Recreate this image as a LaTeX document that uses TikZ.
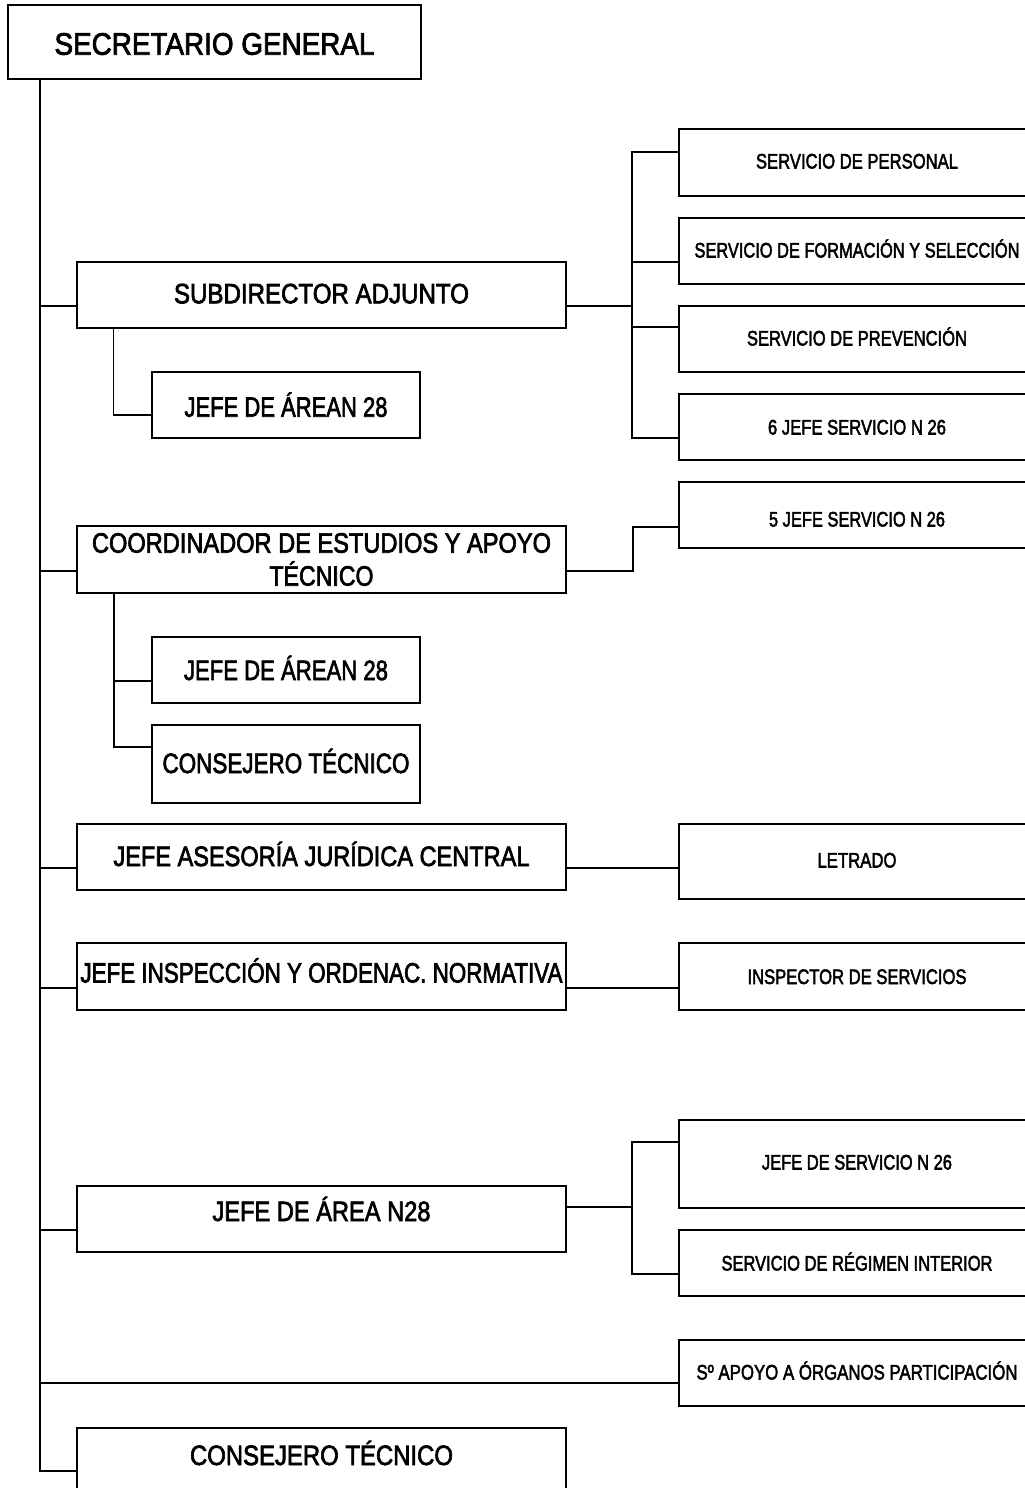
\documentclass[tikz,border=0pt]{standalone}
\usepackage{fontspec}
\setmainfont{Liberation Sans}[FakeBold=2.6]
\usepackage{graphicx}
\newcommand{\lbl}[3]{\raisebox{#1pt}{\resizebox{#2pt}{\height}{#3}}}
\newcommand{\fitw}[2]{\resizebox{#1pt}{\height}{#2}}
\begin{document}
\begin{tikzpicture}[x=1pt,y=-1pt,
  conn/.style={line width=1.8pt},
  bx/.style={draw, line width=1.8pt, rectangle, inner sep=0pt, font=\fontsize{28}{33}\selectfont},
  capc/.style={text height=20pt, text depth=0pt},
  lbox/.style={bx, capc, minimum width=489pt},
  lboxm/.style={bx, minimum width=489pt, align=center},
  sbox/.style={bx, capc, minimum width=268pt},
  rbox/.style={bx, minimum width=356pt, text height=15pt, text depth=0pt, font=\fontsize{21}{25}\selectfont},
]
\useasboundingbox (0,0) rectangle (1025,1488);
\fill[white] (0,0) rectangle (1025,1488);
\clip (0,0) rectangle (1025,1488);

% top
\node[bx, minimum width=413pt, minimum height=74pt, text height=22pt, text depth=0pt, font=\fontsize{31}{36}\selectfont] (sg) at (214.5,42) {\lbl{-1.7}{320}{SECRETARIO GENERAL}};

% left column
\node[lbox, minimum height=66pt] (subd) at (321.5,295) {\lbl{1.7}{295}{SUBDIRECTOR ADJUNTO}};
\node[sbox, minimum height=66pt] (ja1) at (286,405) {\lbl{-1.7}{203}{JEFE DE ÁREAN 28}};
\node[lboxm, minimum height=67pt] (coord) at (321.5,559.5) {\fitw{459}{COORDINADOR DE ESTUDIOS Y APOYO}\\\fitw{104}{TÉCNICO}};
\node[sbox, minimum height=66pt] (ja2) at (286,670) {\lbl{0}{204}{JEFE DE ÁREAN 28}};
\node[sbox, minimum height=78pt] (ct1) at (286,764) {\lbl{1}{247}{CONSEJERO TÉCNICO}};
\node[lbox, minimum height=66pt] (ases) at (321.5,857) {\lbl{1}{416}{JEFE ASESORÍA JURÍDICA CENTRAL}};
\node[lbox, minimum height=67pt] (insp) at (321.5,976.5) {\lbl{4}{482}{JEFE INSPECCIÓN Y ORDENAC. NORMATIVA}};
\node[lbox, minimum height=66pt] (area) at (321.5,1219) {\lbl{8}{218}{JEFE DE ÁREA N28}};
\node[lbox, minimum height=66pt] (cons2) at (321.5,1461) {\lbl{6}{263}{CONSEJERO TÉCNICO}};

% right column
\node[rbox, minimum height=67pt] (r1) at (857,162.5) {\lbl{1.5}{202}{SERVICIO DE PERSONAL}};
\node[rbox, minimum height=66pt] (r2) at (857,251) {\lbl{1}{325}{SERVICIO DE FORMACIÓN Y SELECCIÓN}};
\node[rbox, minimum height=66pt] (r3) at (857,339) {\lbl{1}{220}{SERVICIO DE PREVENCIÓN}};
\node[rbox, minimum height=66pt] (r4) at (857,427) {\lbl{0}{178}{6 JEFE SERVICIO N 26}};
\node[rbox, minimum height=66pt] (r5) at (857,515) {\lbl{-4}{176}{5 JEFE SERVICIO N 26}};
\node[rbox, minimum height=75pt] (r6) at (857,861.5) {\lbl{1.5}{79}{LETRADO}};
\node[rbox, minimum height=67pt] (r7) at (857,976.5) {\lbl{0}{219}{INSPECTOR DE SERVICIOS}};
\node[rbox, minimum height=88pt] (r8) at (857,1164) {\lbl{2}{190}{JEFE DE SERVICIO N 26}};
\node[rbox, minimum height=66pt] (r9) at (857,1263) {\lbl{0}{271}{SERVICIO DE RÉGIMEN INTERIOR}};
\node[rbox, minimum height=66pt] (r10) at (857,1373) {\lbl{1}{321}{Sº APOYO A ÓRGANOS PARTICIPACIÓN}};

% trunk
\draw[conn] (sg.south -| 40,0) -- (40,1471) -- (cons2.west |- 0,1471);
\foreach \y/\n in {306/subd, 571/coord, 868/ases, 988/insp, 1230/area, 1383/r10}
  \draw[conn] (40,\y) -- (\n.west |- 0,\y);

% sub connectors
\draw[conn] (subd.south -| 113.5,0) |- (ja1.west |- 0,415);
\draw[conn] (coord.south -| 113.8,0) |- (ct1.west |- 0,747);
\draw[conn] (113.8,681) -- (ja2.west |- 0,681);

% right connectors
\draw[conn] (subd.east |- 0,306) -- (632,306);
\draw[conn] (r1.west |- 0,152) -- (632,152) -- (632,438) -- (r4.west |- 0,438);
\draw[conn] (632,262) -- (r2.west |- 0,262);
\draw[conn] (632,327) -- (r3.west |- 0,327);
\draw[conn] (coord.east |- 0,571) -- (633,571) |- (r5.west |- 0,527);
\draw[conn] (ases.east |- 0,868) -- (r6.west |- 0,868);
\draw[conn] (insp.east |- 0,988) -- (r7.west |- 0,988);
\draw[conn] (area.east |- 0,1207) -- (632,1207);
\draw[conn] (r8.west |- 0,1142) -- (632,1142) -- (632,1274) -- (r9.west |- 0,1274);
\end{tikzpicture}
\end{document}
